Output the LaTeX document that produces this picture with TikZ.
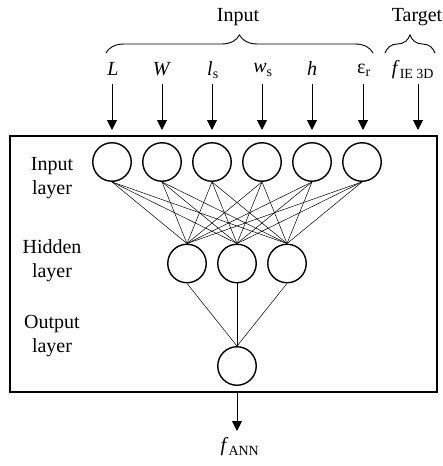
\documentclass[tikz,border=0pt]{standalone}
\usepackage{fontspec}
\setmainfont{Liberation Serif}
\usetikzlibrary{arrows.meta,decorations.pathreplacing}
\begin{document}
\begin{tikzpicture}[x=1pt,y=-1pt,
  neuron/.style={circle,draw,line width=1.4pt,minimum size=38.5pt,inner sep=0pt},
  lab/.style={font=\fontsize{20}{24}\selectfont,inner sep=0pt},
  side/.style={lab,align=center},
  conn/.style={line width=0.5pt},
  inarrow/.style={line width=1pt,-{Triangle[length=10pt,width=10pt]}},
  bracestyle/.style={line width=0.9pt,decorate,decoration={brace,amplitude=18pt}}]
\useasboundingbox (0,0) rectangle (443,466);
% frame
\draw[line width=1.5pt] (10,136) rectangle (437,392);
% neurons
\foreach \i/\x in {1/112,2/162,3/212,4/262,5/312,6/362}
  \node[neuron] (in\i) at (\x,162) {};
\foreach \j/\x in {1/187,2/237,3/287}
  \node[neuron] (hd\j) at (\x,263.5) {};
\node[neuron] (out) at (237,366) {};
% connections
\foreach \i in {1,...,6}
  \foreach \j in {1,2,3}
    \draw[conn] (in\i.south) -- (hd\j.north);
\foreach \j in {1,2,3}
  \draw[conn] (hd\j.south) -- (out.north);
% layer labels
\node[side] (lin) at (52,178) {Input\\layer};
\node[side] (lhd) at (52,261) {Hidden\\layer};
\node[side] (lout) at (52,336) {Output\\layer};
% top labels
\node[lab] (tL) at (113,69) {\textit{L}};
\node[lab] (tW) at (162,69) {\textit{W}};
\node[lab] (tl) at (213,70) {\textit{l}\textsubscript{s}};
\node[lab] (tw) at (263,70) {\textit{w}\textsubscript{s}};
\node[lab] (th) at (312,69) {\textit{h}};
\node[lab] (te) at (364,70) {ε\textsubscript{r}};
\node[lab] (tf) at (413,70) {\textit{f}\textsubscript{IE 3D}};
% input arrows
\foreach \k/\x in {1/112,2/162,3/212,4/262,5/312,6/363,7/418}{
  \coordinate (s\k) at (\x,84);
  \coordinate (e\k) at (\x,130);
  \draw[inarrow] (s\k) -- (e\k);
}
% braces
\coordinate (b1) at (106,53);
\coordinate (b2) at (373,53);
\coordinate (b3) at (385,53);
\coordinate (b4) at (435,53);
\draw[bracestyle] (b1) -- (b2);
\draw[bracestyle] (b3) -- (b4);
\node[lab] (tin) at (238,17) {Input};
\node[lab] (ttg) at (417,17) {Target};
% output
\coordinate (os) at (237,392);
\coordinate (oe) at (237,431);
\draw[inarrow] (os) -- (oe);
\node[lab] (fann) at (240,447) {\textit{f}\textsubscript{ANN}};
\end{tikzpicture}
\end{document}
